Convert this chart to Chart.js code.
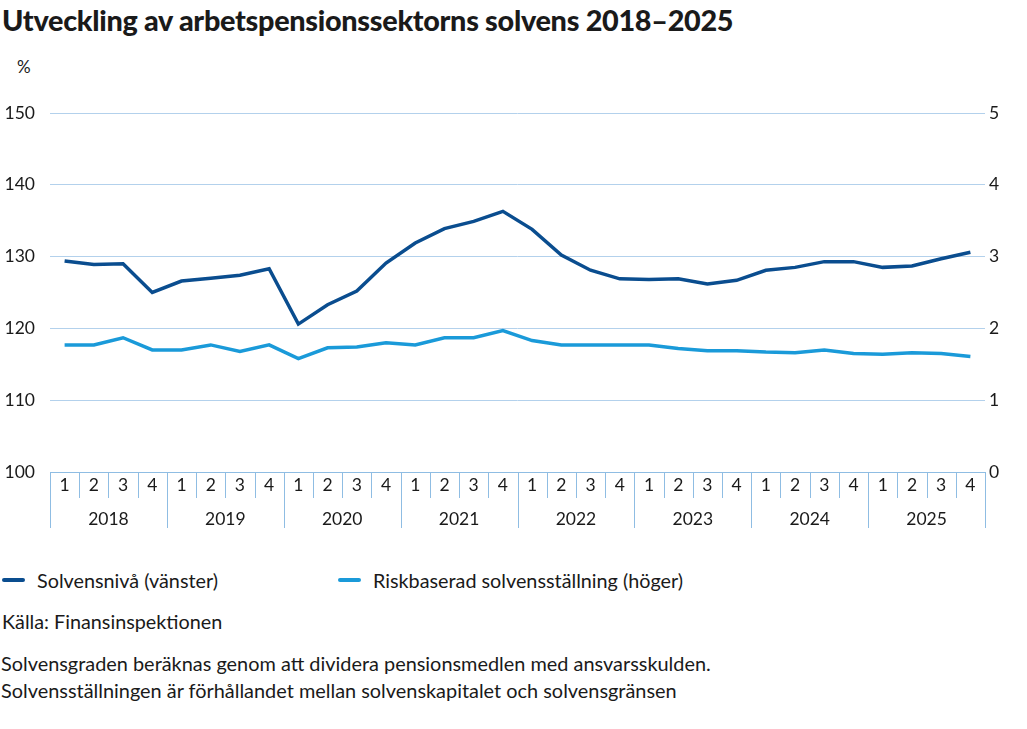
<!DOCTYPE html>
<html>
<head>
<meta charset="utf-8">
<script src="https://cdn.jsdelivr.net/npm/chart.js@4"></script>
<style>
  html, body { margin:0; padding:0; background:#fff; width:1027px; height:729px; overflow:hidden; }
  body { font-family: Lato, "Noto Sans", sans-serif; color:#1a1a1a; position:relative; }
  .abs { position:absolute; white-space:nowrap; line-height:24px; }
  #title { left:2px; top:4px; font-size:28.8px; font-weight:900; letter-spacing:-0.3px; line-height:32px; }
  #pct { left:17px; top:55px; font-size:17px; }
  #wrap { position:absolute; left:0; top:50px; width:1027px; height:490px; }
  .leg { top:568px; font-size:19.8px; display:flex; align-items:center; }
  .leg span.sw { display:inline-block; width:23px; height:4px; border-radius:2px; margin-right:12px; }
  #src { left:2px; top:609px; font-size:19.8px; }
  #n1 { left:1px; top:651px; font-size:19.9px; }
  #n2 { left:1px; top:678px; font-size:19.9px; }
</style>
</head>
<body>
<div id="title" class="abs">Utveckling av arbetspensionssektorns solvens 2018–2025</div>
<div id="pct" class="abs">%</div>
<div id="wrap"><canvas id="c"></canvas></div>
<div class="abs leg" style="left:2px;"><span class="sw" style="background:#0a4d8f"></span>Solvensnivå (vänster)</div>
<div class="abs leg" style="left:338px;"><span class="sw" style="background:#1a9ad9"></span>Riskbaserad solvensställning (höger)</div>
<div id="src" class="abs">Källa: Finansinspektionen</div>
<div id="n1" class="abs">Solvensgraden beräknas genom att dividera pensionsmedlen med ansvarsskulden.</div>
<div id="n2" class="abs">Solvensställningen är förhållandet mellan solvenskapitalet och solvensgränsen</div>
<script>
const years = ['2018','2019','2020','2021','2022','2023','2024','2025'];
const quarters = ['1','2','3','4'];
const quarterLabels = years.flatMap(() => quarters);

const solvensniva = [
  129.4, 128.9, 129.0, 125.0,
  126.6, 127.0, 127.4, 128.3,
  120.6, 123.3, 125.2, 129.1,
  131.9, 133.9, 134.9, 136.3,
  133.8, 130.2, 128.1, 126.9,
  126.8, 126.9, 126.2, 126.7,
  128.1, 128.5, 129.3, 129.3,
  128.5, 128.7, 129.7, 130.6
];
const riskbaserad = [
  1.77, 1.77, 1.87, 1.70,
  1.70, 1.77, 1.68, 1.77,
  1.58, 1.73, 1.74, 1.80,
  1.77, 1.87, 1.87, 1.97,
  1.83, 1.77, 1.77, 1.77,
  1.77, 1.72, 1.69, 1.69,
  1.67, 1.66, 1.70, 1.65,
  1.64, 1.66, 1.65, 1.61
];
const leftTicks = [100, 110, 120, 130, 140, 150];
const rightTicks = [0, 1, 2, 3, 4, 5];

const gridColor = '#b3d1ec';
const sepColor = '#8fbde3';
const fontFamily = 'Lato, "Noto Sans", sans-serif';

const separators = {
  id: 'separators',
  afterDraw(chart) {
    const xs = chart.scales.x;
    const ctx = chart.ctx;
    const base = chart.chartArea.bottom;
    const n = quarterLabels.length;
    ctx.save();
    ctx.strokeStyle = sepColor;
    ctx.lineWidth = 1;
    for (let i = 0; i <= n; i++) {
      const px = Math.round(xs.getPixelForValue(i - 0.5)) + 0.5;
      const len = (i % 4 === 0) ? 56 : 26;
      ctx.beginPath();
      ctx.moveTo(px, base);
      ctx.lineTo(px, base + len);
      ctx.stroke();
    }
    ctx.restore();
  }
};

new Chart(document.getElementById('c'), {
  type: 'line',
  data: {
    labels: quarterLabels,
    datasets: [
      { label: 'Solvensnivå (vänster)', data: solvensniva, yAxisID: 'y',
        borderColor: '#0a4d8f', borderWidth: 3.5, pointRadius: 0, tension: 0 },
      { label: 'Riskbaserad solvensställning (höger)', data: riskbaserad, yAxisID: 'y1',
        borderColor: '#1a9ad9', borderWidth: 3.5, pointRadius: 0, tension: 0 }
    ]
  },
  options: {
    responsive: true,
    maintainAspectRatio: false,
    animation: false,
    layout: { padding: { left: 0, right: 0, top: 63, bottom: 0 } },
    plugins: { legend: { display: false }, tooltip: { enabled: false } },
    scales: {
      x: {
        type: 'category',
        offset: true,
        grid: { display: false, drawTicks: false },
        border: { display: true, color: sepColor, width: 1 },
        ticks: { color: '#1a1a1a', font: { family: fontFamily, size: 17.5 }, padding: 3, maxRotation: 0, autoSkip: false }
      },
      x2: {
        type: 'category',
        position: 'bottom',
        labels: years,
        offset: true,
        grid: { display: false, drawTicks: false },
        border: { display: false },
        ticks: { color: '#1a1a1a', font: { family: fontFamily, size: 17.5 }, padding: 10, maxRotation: 0, autoSkip: false }
      },
      y: {
        position: 'left',
        min: 100, max: 150,
        afterBuildTicks(s) { s.ticks = leftTicks.map(v => ({ value: v })); },
        afterFit(s) { s.width = 50; },
        grid: { color: gridColor, drawTicks: false, lineWidth: 1 },
        border: { display: false },
        ticks: { color: '#1a1a1a', font: { family: fontFamily, size: 17.5 }, padding: 15 }
      },
      y1: {
        position: 'right',
        min: 0, max: 5,
        afterBuildTicks(s) { s.ticks = rightTicks.map(v => ({ value: v })); },
        afterFit(s) { s.width = 42; },
        grid: { drawOnChartArea: false, drawTicks: false },
        border: { display: false },
        ticks: { color: '#1a1a1a', font: { family: fontFamily, size: 17.5 }, padding: 4 }
      }
    }
  },
  plugins: [separators]
});
</script>
</body>
</html>
